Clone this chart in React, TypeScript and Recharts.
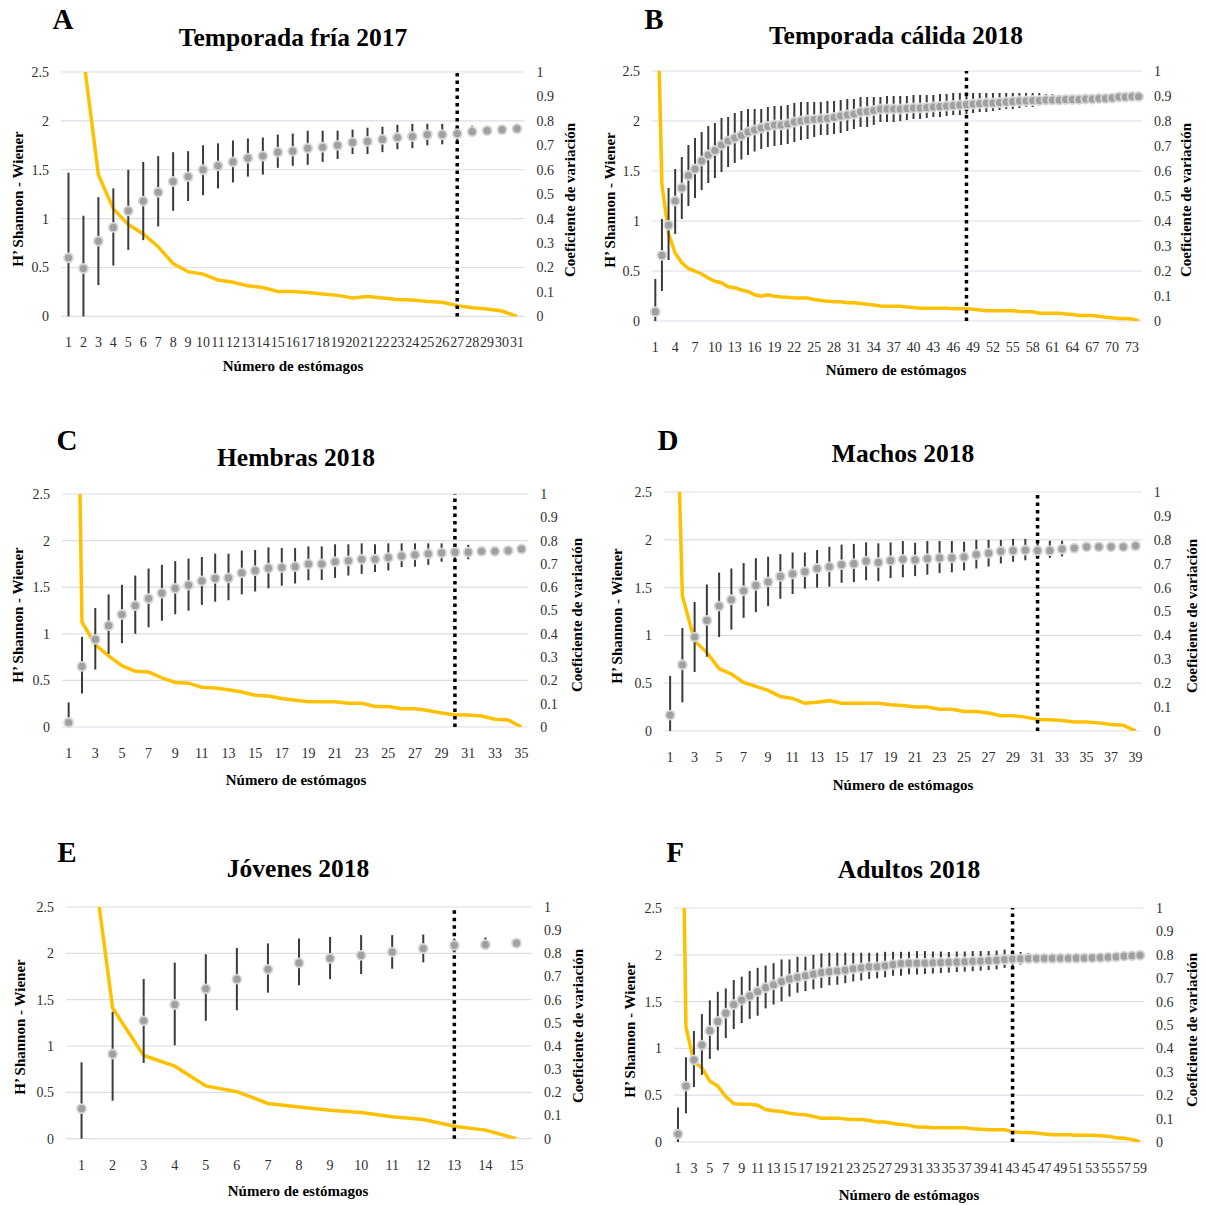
import React from "react";
import {
  ComposedChart,
  Line,
  XAxis,
  YAxis,
  CartesianGrid,
  ErrorBar,
  ReferenceLine,
} from "recharts";

const hTicks = [0, 0.5, 1, 1.5, 2, 2.5];
const cvTicks = [0, 0.1, 0.2, 0.3, 0.4, 0.5, 0.6, 0.7, 0.8, 0.9, 1];

// A - Temporada fría 2017
const aMean = [0.6, 0.49, 0.77, 0.91, 1.08, 1.18, 1.27, 1.38, 1.43, 1.5, 1.54, 1.58, 1.62, 1.64, 1.68, 1.69, 1.72, 1.73, 1.75, 1.78, 1.79, 1.81, 1.83, 1.84, 1.86, 1.86, 1.87, 1.89, 1.9, 1.91, 1.92];
const aHigh = [1.47, 1.03, 1.22, 1.31, 1.5, 1.58, 1.64, 1.68, 1.69, 1.75, 1.77, 1.8, 1.82, 1.83, 1.86, 1.87, 1.9, 1.9, 1.9, 1.91, 1.93, 1.94, 1.96, 1.97, 1.97, 1.97, 1.95, 1.95, 1.9, 1.91, 1.92];
const aLow = [0, 0, 0.32, 0.52, 0.68, 0.78, 0.92, 1.08, 1.18, 1.24, 1.31, 1.37, 1.43, 1.45, 1.52, 1.54, 1.55, 1.58, 1.61, 1.66, 1.66, 1.68, 1.71, 1.72, 1.75, 1.76, 1.78, 1.85, 1.9, 1.91, 1.92];
const aCv = [1.6, 1.06, 0.58, 0.44, 0.376, 0.337, 0.285, 0.216, 0.183, 0.173, 0.149, 0.14, 0.125, 0.118, 0.102, 0.102, 0.098, 0.092, 0.086, 0.075, 0.081, 0.075, 0.069, 0.067, 0.061, 0.058, 0.044, 0.035, 0.03, 0.022, 0];

// B - Temporada cálida 2018
const bMean = [0.093, 0.657, 0.958, 1.2, 1.33, 1.455, 1.52, 1.6, 1.66, 1.705, 1.76, 1.8, 1.83, 1.855, 1.89, 1.91, 1.93, 1.945, 1.96, 1.96, 1.97, 1.99, 2.0, 2.01, 2.015, 2.02, 2.025, 2.035, 2.05, 2.06, 2.07, 2.09, 2.095, 2.105, 2.12, 2.12, 2.12,
  2.12, 2.125, 2.13, 2.13, 2.135, 2.14, 2.145, 2.15, 2.155, 2.16, 2.165, 2.17, 2.175, 2.18, 2.18, 2.185, 2.19, 2.195, 2.2, 2.2, 2.205, 2.205, 2.21, 2.21, 2.21, 2.215, 2.215, 2.215, 2.22, 2.22, 2.225, 2.225, 2.23, 2.24, 2.24, 2.245, 2.245];
const bHigh = [0.42, 1.02, 1.33, 1.52, 1.64, 1.76, 1.83, 1.89, 1.95, 1.98, 2.03, 2.04, 2.08, 2.1, 2.12, 2.12, 2.12, 2.14, 2.15, 2.15, 2.16, 2.18, 2.19, 2.19, 2.19, 2.19, 2.2, 2.2, 2.21, 2.22, 2.22, 2.24, 2.24, 2.24, 2.24, 2.25, 2.25,
  2.25, 2.25, 2.26, 2.26, 2.26, 2.26, 2.27, 2.27, 2.28, 2.28, 2.28, 2.28, 2.28, 2.28, 2.28, 2.28, 2.28, 2.28, 2.28, 2.28, 2.28, 2.28, 2.27, 2.27, 2.26, 2.26, 2.25, 2.25, 2.24, 2.22, 2.225, 2.225, 2.23, 2.24, 2.24, 2.245, 2.245];
const bLow = [0, 0.3, 0.61, 0.87, 1.02, 1.15, 1.23, 1.31, 1.38, 1.43, 1.49, 1.54, 1.58, 1.615, 1.66, 1.695, 1.72, 1.74, 1.75, 1.76, 1.77, 1.79, 1.81, 1.82, 1.84, 1.86, 1.86, 1.87, 1.88, 1.9, 1.92, 1.94, 1.94, 1.96, 1.99, 1.99, 1.99,
  2.0, 2.01, 2.02, 2.02, 2.03, 2.04, 2.04, 2.05, 2.06, 2.06, 2.07, 2.08, 2.09, 2.09, 2.1, 2.11, 2.12, 2.12, 2.13, 2.14, 2.14, 2.15, 2.16, 2.17, 2.18, 2.19, 2.19, 2.2, 2.21, 2.22, 2.225, 2.225, 2.23, 2.24, 2.24, 2.245, 2.245];
const bCv = [1.65, 0.547, 0.35, 0.272, 0.233, 0.21, 0.2, 0.188, 0.172, 0.159, 0.153, 0.137, 0.133, 0.124, 0.118, 0.105, 0.099, 0.105, 0.099, 0.096, 0.095, 0.092, 0.092, 0.092, 0.086, 0.082, 0.079, 0.077, 0.077, 0.073, 0.073, 0.07, 0.067, 0.064, 0.06, 0.059, 0.059,
  0.059, 0.056, 0.054, 0.051, 0.051, 0.051, 0.051, 0.051, 0.049, 0.049, 0.049, 0.047, 0.044, 0.041, 0.041, 0.041, 0.041, 0.041, 0.038, 0.037, 0.037, 0.031, 0.031, 0.031, 0.031, 0.028, 0.026, 0.022, 0.022, 0.022, 0.019, 0.015, 0.013, 0.01, 0.01, 0.008, 0];

// C - Hembras 2018
const cMean = [0.048, 0.65, 0.94, 1.087, 1.207, 1.303, 1.379, 1.437, 1.488, 1.523, 1.567, 1.595, 1.6, 1.653, 1.677, 1.704, 1.711, 1.72, 1.749, 1.749, 1.773, 1.783, 1.8, 1.8, 1.818, 1.835, 1.848, 1.859, 1.869, 1.876, 1.876, 1.886, 1.886, 1.893, 1.91];
const cHigh = [0.264, 0.967, 1.276, 1.423, 1.526, 1.625, 1.7, 1.74, 1.78, 1.807, 1.824, 1.86, 1.86, 1.893, 1.9, 1.927, 1.92, 1.92, 1.938, 1.938, 1.96, 1.96, 1.97, 1.96, 1.97, 1.97, 1.97, 1.97, 1.97, 1.95, 1.955, 1.93, 1.886, 1.893, 1.91];
const cLow = [0, 0.36, 0.617, 0.785, 0.9, 1.0, 1.07, 1.14, 1.21, 1.248, 1.31, 1.344, 1.36, 1.423, 1.454, 1.488, 1.516, 1.54, 1.574, 1.577, 1.6, 1.625, 1.643, 1.663, 1.68, 1.715, 1.72, 1.739, 1.773, 1.8, 1.8, 1.85, 1.886, 1.893, 1.91];
const cCv = [4.1, 0.451, 0.353, 0.305, 0.263, 0.239, 0.236, 0.211, 0.191, 0.188, 0.171, 0.167, 0.16, 0.15, 0.136, 0.133, 0.122, 0.115, 0.108, 0.108, 0.108, 0.102, 0.102, 0.088, 0.088, 0.078, 0.078, 0.071, 0.06, 0.053, 0.051, 0.047, 0.033, 0.03, 0];

// D - Machos 2018
const dMean = [0.167, 0.693, 0.983, 1.157, 1.307, 1.373, 1.467, 1.523, 1.56, 1.617, 1.643, 1.667, 1.7, 1.717, 1.74, 1.75, 1.777, 1.763, 1.783, 1.796, 1.79, 1.803, 1.81, 1.81, 1.82, 1.846, 1.86, 1.88, 1.887, 1.893, 1.887, 1.887, 1.903, 1.913, 1.927, 1.927, 1.927, 1.927, 1.937];
const dHigh = [0.577, 1.077, 1.35, 1.533, 1.657, 1.7, 1.757, 1.807, 1.823, 1.85, 1.867, 1.867, 1.893, 1.927, 1.95, 1.957, 1.973, 1.963, 1.973, 1.987, 1.97, 1.987, 1.987, 1.987, 1.98, 2.0, 2.0, 2.0, 2.01, 2.01, 1.99, 1.99, 1.99, 1.96, 1.927, 1.927, 1.927, 1.927, 1.937];
const dLow = [0, 0.3, 0.617, 0.777, 0.983, 1.06, 1.183, 1.243, 1.307, 1.383, 1.433, 1.49, 1.5, 1.51, 1.55, 1.557, 1.577, 1.567, 1.6, 1.608, 1.62, 1.635, 1.652, 1.66, 1.68, 1.7, 1.72, 1.753, 1.77, 1.786, 1.8, 1.81, 1.826, 1.87, 1.927, 1.927, 1.927, 1.927, 1.937];
const dCv = [2.44, 0.566, 0.377, 0.328, 0.261, 0.238, 0.203, 0.187, 0.17, 0.144, 0.136, 0.116, 0.12, 0.127, 0.116, 0.116, 0.116, 0.116, 0.11, 0.107, 0.1, 0.1, 0.091, 0.091, 0.082, 0.082, 0.075, 0.064, 0.064, 0.058, 0.048, 0.047, 0.044, 0.038, 0.038, 0.034, 0.027, 0.024, 0];

// E - Jóvenes 2018
const eMean = [0.324, 0.914, 1.272, 1.448, 1.617, 1.721, 1.828, 1.897, 1.945, 1.979, 2.014, 2.052, 2.086, 2.093, 2.11];
const eHigh = [0.824, 1.369, 1.724, 1.9, 1.99, 2.059, 2.107, 2.159, 2.176, 2.197, 2.197, 2.203, 2.16, 2.17, 2.11];
const eLow = [0, 0.41, 0.817, 1.007, 1.272, 1.386, 1.576, 1.655, 1.721, 1.776, 1.834, 1.903, 2.01, 2.05, 2.11];
const eCv = [1.58, 0.564, 0.359, 0.313, 0.228, 0.203, 0.152, 0.137, 0.123, 0.113, 0.095, 0.083, 0.054, 0.037, 0];

// F - Adultos 2018
const fMean = [0.085, 0.598, 0.878, 1.035, 1.189, 1.288, 1.376, 1.469, 1.516, 1.561, 1.608, 1.649, 1.68, 1.714, 1.742, 1.759, 1.776, 1.793, 1.81, 1.82, 1.827, 1.837, 1.851, 1.861, 1.872, 1.872, 1.882, 1.896, 1.906, 1.91,
  1.91, 1.912, 1.915, 1.918, 1.92, 1.923, 1.926, 1.93, 1.933, 1.937, 1.943, 1.95, 1.954, 1.957, 1.96, 1.96, 1.962, 1.962, 1.963, 1.963, 1.965, 1.966, 1.968, 1.97, 1.974, 1.978, 1.985, 1.99, 1.995];
const fHigh = [0.369, 0.905, 1.185, 1.366, 1.513, 1.605, 1.64, 1.731, 1.766, 1.827, 1.861, 1.885, 1.91, 1.95, 1.95, 1.98, 1.98, 2.0, 2.015, 2.022, 2.022, 2.022, 2.022, 2.022, 2.022, 2.022, 2.032, 2.032, 2.032, 2.032,
  2.04, 2.04, 2.035, 2.035, 2.03, 2.035, 2.035, 2.04, 2.04, 2.04, 2.045, 2.055, 2.05, 2.03, 2.02, 2.01, 1.962, 1.962, 1.963, 1.963, 1.965, 1.966, 1.968, 1.97, 1.974, 1.978, 1.985, 1.99, 1.995];
const fLow = [0, 0.307, 0.587, 0.717, 0.888, 0.98, 1.11, 1.206, 1.27, 1.315, 1.349, 1.428, 1.469, 1.503, 1.554, 1.595, 1.612, 1.632, 1.646, 1.674, 1.68, 1.697, 1.715, 1.725, 1.742, 1.749, 1.759, 1.776, 1.776, 1.793,
  1.79, 1.795, 1.8, 1.805, 1.81, 1.815, 1.82, 1.825, 1.83, 1.837, 1.845, 1.86, 1.87, 1.895, 1.91, 1.92, 1.962, 1.962, 1.963, 1.963, 1.965, 1.966, 1.968, 1.97, 1.974, 1.978, 1.985, 1.99, 1.995];
const fCv = [2.9, 0.492, 0.342, 0.317, 0.26, 0.239, 0.194, 0.164, 0.161, 0.161, 0.157, 0.139, 0.134, 0.13, 0.123, 0.119, 0.116, 0.109, 0.102, 0.102, 0.102, 0.098, 0.096, 0.096, 0.092, 0.085, 0.085, 0.079, 0.075, 0.071,
  0.064, 0.064, 0.061, 0.061, 0.061, 0.061, 0.061, 0.057, 0.055, 0.052, 0.052, 0.052, 0.044, 0.041, 0.041, 0.038, 0.034, 0.031, 0.031, 0.031, 0.029, 0.029, 0.029, 0.027, 0.025, 0.018, 0.016, 0.011, 0];

const SERIF = '"Liberation Serif", "Times New Roman", serif';
const tickStyle = { fontSize: 14, fill: "#2e2e2e", fontFamily: SERIF };

type PanelProps = {
  letter: string;
  title: string;
  mean: number[];
  high: number[];
  low: number[];
  cv: number[];
  refX: number;
  interval: number;
  plot: [number, number, number, number]; // left, right, top, bottom
  letterPos: [number, number];
  titlePos: [number, number];
  xLabelPos: [number, number];
  yLabelPos: [number, number];
  y2LabelPos: [number, number];
};

const centered = (x: number, y: number, rotate = false): React.CSSProperties => ({
  position: "absolute",
  left: x,
  top: y,
  transform: `translate(-50%, -50%)${rotate ? " rotate(-90deg)" : ""}`,
  whiteSpace: "nowrap",
  fontFamily: SERIF,
  fontWeight: 700,
  color: "#000",
  lineHeight: 1,
});

function Panel(p: PanelProps) {
  const rows = p.mean.map((m, i) => ({
    n: String(i + 1),
    h: m,
    err: [m - p.low[i], p.high[i] - m],
    cv: p.cv[i],
  }));
  const [l, r, t, b] = p.plot;
  const w = r - l + 100;
  const h = b - t + 40;
  const half = (r - l) / rows.length / 2;

  return (
    <>
      <div style={{ position: "absolute", left: l - 50, top: t - 10 }}>
        <ComposedChart width={w} height={h} data={rows} margin={{ top: 10, right: 10, left: 10, bottom: 0 }}>
          <CartesianGrid vertical={false} stroke="#d9dee7" strokeWidth={1.2} />
          <XAxis
            dataKey="n"
            interval={p.interval}
            padding={{ left: half, right: half }}
            tickLine={false}
            axisLine={false}
            height={40}
            tickMargin={15}
            tick={tickStyle}
          />
          <YAxis
            domain={[0, 2.5]}
            ticks={hTicks}
            width={40}
            tickLine={false}
            axisLine={false}
            tickMargin={6}
            tick={tickStyle}
          />
          <YAxis
            yAxisId="cv"
            orientation="right"
            domain={[0, 1]}
            ticks={cvTicks}
            allowDataOverflow
            width={40}
            tickLine={false}
            axisLine={false}
            tickMargin={6}
            tick={tickStyle}
          />
          <Line
            yAxisId="cv"
            type="linear"
            dataKey="cv"
            stroke="#FFC000"
            strokeWidth={3.5}
            dot={false}
            isAnimationActive={false}
          />
          <Line
            type="linear"
            dataKey="h"
            stroke="none"
            strokeWidth={0}
            dot={{ r: 4.5, fill: "#a0a0a0", stroke: "#d6d6d6", strokeWidth: 1.8 }}
            isAnimationActive={false}
          >
            <ErrorBar dataKey="err" width={0} stroke="#3a3a3a" strokeWidth={2} />
          </Line>
          <ReferenceLine x={String(p.refX)} stroke="#000" strokeWidth={3.5} strokeDasharray="3.5 4" />
        </ComposedChart>
      </div>
      <div style={{ ...centered(p.letterPos[0], p.letterPos[1]), fontSize: 29 }}>{p.letter}</div>
      <div style={{ ...centered(p.titlePos[0], p.titlePos[1]), fontSize: 25.5 }}>{p.title}</div>
      <div style={{ ...centered(p.xLabelPos[0], p.xLabelPos[1]), fontSize: 15 }}>Número de estómagos</div>
      <div style={{ ...centered(p.yLabelPos[0], p.yLabelPos[1], true), fontSize: 15 }}>H’ Shannon - Wiener</div>
      <div style={{ ...centered(p.y2LabelPos[0], p.y2LabelPos[1], true), fontSize: 15 }}>Coeficiente de variación</div>
    </>
  );
}

export default function App() {
  return (
    <div style={{ position: "absolute", left: 0, top: 0, width: 1206, height: 1205, background: "#fff", overflow: "hidden" }}>
      <Panel
        letter="A"
        title="Temporada fría 2017"
        mean={aMean}
        high={aHigh}
        low={aLow}
        cv={aCv}
        refX={27}
        interval={0}
        plot={[60.8, 524.3, 72.3, 326.7]}
        letterPos={[63, 19]}
        titlePos={[293, 38]}
        xLabelPos={[293, 366]}
        yLabelPos={[18, 199]}
        y2LabelPos={[570, 200]}
      />
      <Panel
        letter="B"
        title="Temporada cálida 2018"
        mean={bMean}
        high={bHigh}
        low={bLow}
        cv={bCv}
        refX={48}
        interval={2}
        plot={[651.7, 1141.6, 70.7, 330.7]}
        letterPos={[654, 19]}
        titlePos={[896, 36]}
        xLabelPos={[896, 370]}
        yLabelPos={[610, 200]}
        y2LabelPos={[1186, 200]}
      />
      <Panel
        letter="C"
        title="Hembras 2018"
        mean={cMean}
        high={cHigh}
        low={cLow}
        cv={cCv}
        refX={30}
        interval={1}
        plot={[62.3, 528.5, 494.3, 737.3]}
        letterPos={[67, 440]}
        titlePos={[296, 458]}
        xLabelPos={[296, 780]}
        yLabelPos={[18, 615]}
        y2LabelPos={[577, 615]}
      />
      <Panel
        letter="D"
        title="Machos 2018"
        mean={dMean}
        high={dHigh}
        low={dLow}
        cv={dCv}
        refX={31}
        interval={1}
        plot={[663.9, 1141.6, 492.3, 741.3]}
        letterPos={[668, 440]}
        titlePos={[903, 454]}
        xLabelPos={[903, 785]}
        yLabelPos={[617, 616]}
        y2LabelPos={[1192, 616]}
      />
      <Panel
        letter="E"
        title="Jóvenes 2018"
        mean={eMean}
        high={eHigh}
        low={eLow}
        cv={eCv}
        refX={13}
        interval={0}
        plot={[65.5, 531.5, 907.3, 1149]}
        letterPos={[67, 852]}
        titlePos={[298, 869]}
        xLabelPos={[298, 1191]}
        yLabelPos={[20, 1027]}
        y2LabelPos={[578, 1026]}
      />
      <Panel
        letter="F"
        title="Adultos 2018"
        mean={fMean}
        high={fHigh}
        low={fLow}
        cv={fCv}
        refX={43}
        interval={1}
        plot={[674, 1144, 907.7, 1151.7]}
        letterPos={[675, 852]}
        titlePos={[909, 870]}
        xLabelPos={[909, 1195]}
        yLabelPos={[630, 1030]}
        y2LabelPos={[1192, 1030]}
      />
    </div>
  );
}
